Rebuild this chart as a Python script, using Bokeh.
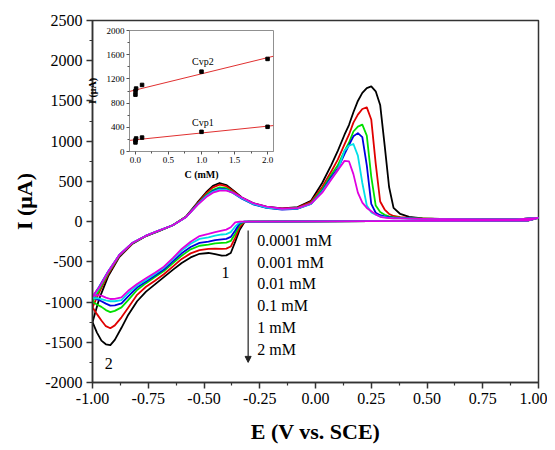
import numpy as np
from bokeh.plotting import figure
from bokeh.models import Range1d, FixedTicker, PrintfTickFormatter, Arrow, NormalHead
from bokeh.embed import file_html
from bokeh.resources import INLINE
from bokeh.core.properties import value

FONT = "Liberation Serif"

# ---------------- main CV data ----------------
E_fwd = [-1.00, -0.97, -0.93, -0.88, -0.82, -0.76, -0.70, -0.64, -0.58, -0.53,
         -0.49, -0.46, -0.43, -0.40, -0.37, -0.33, -0.28, -0.22, -0.15, -0.08,
         -0.02, 0.03, 0.07, 0.10, 0.13, 0.15, 0.17, 0.19, 0.21, 0.23,
         0.25, 0.27, 0.29, 0.31, 0.33, 0.35, 0.38, 0.42, 0.48, 0.60,
         0.75, 0.90, 1.00]
E_rev = [1.00, 0.95, 0.50, 0.00, -0.30, -0.32, -0.34, -0.36, -0.38, -0.40,
         -0.42, -0.45, -0.48, -0.52, -0.56, -0.60, -0.64, -0.68, -0.72, -0.76,
         -0.80, -0.84, -0.87, -0.90, -0.92, -0.94, -0.96, -0.98, -1.00]

black_fwd = [-1250, -960, -680, -440, -275, -180, -115, -45, 65, 235,
             365, 445, 480, 455, 390, 300, 230, 185, 165, 180,
             260, 480, 700, 880, 1080, 1200, 1360, 1500, 1600, 1660,
             1680, 1620, 1450, 950, 430, 170, 95, 60, 40, 30,
             28, 28, 45]
red_fwd = [-1066, -880, -655, -430, -270, -178, -113, -45, 62, 225,
           350, 425, 460, 440, 380, 295, 225, 180, 160, 174,
           245, 430, 620, 770, 960, 1080, 1230, 1330, 1400, 1420,
           1270, 720, 250, 150, 95, 70, 55, 45, 38, 30,
           28, 28, 45]
green_fwd = [-1000, -850, -640, -420, -265, -176, -112, -45, 60, 215,
             330, 395, 425, 415, 365, 290, 220, 175, 155, 164,
             230, 400, 580, 700, 880, 980, 1120, 1180, 1205, 1070,
             560, 200, 120, 85, 65, 55, 48, 42, 36, 30,
             28, 28, 45]
blue_fwd = [-940, -810, -620, -415, -262, -175, -110, -45, 58, 210,
            320, 380, 410, 400, 355, 285, 215, 170, 150, 160,
            220, 380, 550, 660, 840, 950, 1060, 1100, 1050, 700,
            220, 110, 80, 65, 55, 48, 44, 40, 35, 30,
            28, 28, 45]
cyan_fwd = [-955, -820, -625, -415, -262, -175, -110, -45, 58, 208,
            315, 370, 400, 395, 355, 290, 220, 175, 155, 163,
            220, 370, 530, 640, 880, 945, 965, 820, 480, 200,
            115, 85, 65, 55, 45, 42, 40, 38, 34, 30,
            28, 28, 45]
magenta_fwd = [-930, -820, -625, -415, -262, -175, -110, -45, 58, 205,
               305, 360, 385, 385, 360, 300, 230, 185, 160, 168,
               225, 360, 520, 640, 755, 750, 590, 360, 235, 170,
               130, 90, 60, 50, 45, 42, 40, 38, 33, 30,
               28, 28, 45]

black_rev = [45, 12, 8, 2, 0, -10, -100, -250, -390, -420,
             -423, -405, -390, -400, -445, -514, -600, -690, -780, -870,
             -990, -1160, -1320, -1470, -1535, -1525, -1480, -1380, -1250]
red_rev = [45, 12, 8, 2, 0, -5, -70, -200, -310, -335,
           -340, -335, -340, -355, -395, -464, -560, -655, -735, -810,
           -910, -1070, -1190, -1290, -1325, -1300, -1230, -1150, -1066]
green_rev = [45, 12, 8, 2, 0, 0, -40, -150, -240, -262,
             -265, -270, -286, -300, -345, -423, -520, -615, -690, -765,
             -850, -975, -1066, -1110, -1125, -1100, -1060, -1030, -1000]
blue_rev = [45, 12, 8, 2, 0, 0, -20, -110, -190, -215,
            -220, -230, -249, -265, -315, -394, -495, -595, -670, -745,
            -820, -930, -1016, -1040, -1045, -1020, -990, -965, -940]
cyan_rev = [45, 12, 8, 2, 0, 0, -10, -60, -130, -155,
            -160, -175, -195, -215, -275, -361, -470, -575, -650, -725,
            -795, -890, -975, -990, -990, -980, -965, -950, -955]
magenta_rev = [45, 12, 8, 2, 0, 0, 0, -10, -70, -100,
               -112, -130, -153, -180, -250, -340, -455, -560, -635, -705,
               -775, -860, -941, -960, -962, -945, -920, -915, -930]

series_colors = ["#000000", "#e00000", "#00e000", "#0000e0", "#00e0e8", "#e000e0"]
series_fwd = [black_fwd, red_fwd, green_fwd, blue_fwd, cyan_fwd, magenta_fwd]
series_rev = [black_rev, red_rev, green_rev, blue_rev, cyan_rev, magenta_rev]

conc_labels = ["0.0001 mM", "0.001 mM", "0.01 mM", "0.1 mM", "1 mM", "2 mM"]
conc_label_x = [-0.261] * 6
conc_label_y = [-236, -506, -775, -1045, -1315, -1584]
peak_labels = ["1", "2"]
peak_label_x = [-0.404, -0.927]
peak_label_y = [-630, -1770]
arrow_x = -0.302
arrow_y = [-112, -1750]

x_ticks = [-1.0, -0.75, -0.5, -0.25, 0.0, 0.25, 0.5, 0.75, 1.0]
x_minor = [-0.875, -0.625, -0.375, -0.125, 0.125, 0.375, 0.625, 0.875]
y_ticks = [-2000, -1500, -1000, -500, 0, 500, 1000, 1500, 2000, 2500]
y_minor = [-1750, -1250, -750, -250, 250, 750, 1250, 1750, 2250]

# ---------------- inset data ----------------
C_mM = [0.0001, 0.001, 0.01, 0.1, 1.0, 2.0]
Cvp2 = [940, 1000, 1040, 1100, 1320, 1530]
Cvp1 = [150, 185, 215, 230, 325, 408]
ins_x_ticks = [0.0, 0.5, 1.0, 1.5, 2.0]
ins_x_minor = [0.25, 0.75, 1.25, 1.75]
ins_y_ticks = [0, 400, 800, 1200, 1600, 2000]
ins_y_minor = [200, 600, 1000, 1400, 1800]
ins_labels = ["Cvp2", "Cvp1"]
ins_label_x = [1.02, 1.02]
ins_label_y = [1483, 479]

# ---------------- main figure ----------------
p = figure(width=539, height=442, output_backend="svg", toolbar_location=None,
           x_range=Range1d(-1.0, 1.0), y_range=Range1d(-2000, 2500),
           min_border_left=84, min_border_right=9, min_border_top=12, min_border_bottom=68,
           styles={"position": "absolute", "left": "8px", "top": "8px"})
p.xgrid.visible = False
p.ygrid.visible = False
p.outline_line_color = "#333333"
p.outline_line_width = 1.5
p.background_fill_color = "white"

for col, f, r in zip(series_colors, series_fwd, series_rev):
    xs = list(E_fwd) + list(E_rev)
    ys = list(f) + list(r)
    p.line(xs, ys, line_color=col, line_width=1.8, line_join="round")

for ax in (p.xaxis[0], p.yaxis[0]):
    ax.axis_line_color = "#333333"
    ax.axis_line_width = 1.5
    ax.major_tick_line_color = "#333333"
    ax.minor_tick_line_color = "#333333"
    ax.major_tick_line_width = 1.5
    ax.minor_tick_line_width = 1.2
    ax.major_tick_out = 6
    ax.major_tick_in = 0
    ax.minor_tick_out = 3
    ax.minor_tick_in = 0
    ax.major_label_text_font = FONT
    ax.major_label_text_font_size = "16px"
    ax.major_label_text_color = "black"
    ax.axis_label_text_font = FONT
    ax.axis_label_text_font_size = "22px"
    ax.axis_label_text_font_style = "bold"
    ax.axis_label_text_color = "black"

p.xaxis.ticker = FixedTicker(ticks=x_ticks, minor_ticks=x_minor)
p.xaxis.formatter = PrintfTickFormatter(format="%.2f")
p.xaxis.axis_label = "E (V vs. SCE)"
p.xaxis.major_label_standoff = 4
p.xaxis.axis_label_standoff = 12
p.yaxis.ticker = FixedTicker(ticks=y_ticks, minor_ticks=y_minor)
p.yaxis.formatter = PrintfTickFormatter(format="%d")
p.yaxis.axis_label = "I (μA)"
p.yaxis.major_label_standoff = 4
p.yaxis.axis_label_standoff = 5

p.text(x=conc_label_x, y=conc_label_y, text=conc_labels, text_font=value(FONT),
       text_font_size="16px", text_baseline="middle", text_align="left", text_color="black")
p.text(x=peak_label_x, y=peak_label_y, text=peak_labels, text_font=value(FONT),
       text_font_size="16px", text_baseline="middle", text_align="center", text_color="black")
p.add_layout(Arrow(end=NormalHead(size=6, fill_color="#222222", line_color="#222222"),
                   x_start=arrow_x, y_start=arrow_y[0], x_end=arrow_x, y_end=arrow_y[1],
                   line_color="#222222", line_width=1.2))

# ---------------- inset figure ----------------
ins = figure(width=192, height=157, output_backend="svg", toolbar_location=None,
             x_range=Range1d(-0.09, 2.09), y_range=Range1d(0, 2000),
             min_border_left=45, min_border_right=2, min_border_top=5, min_border_bottom=29,
             styles={"position": "absolute", "left": "83px", "top": "25px"})
ins.xgrid.visible = False
ins.ygrid.visible = False
ins.outline_line_color = "#909090"
ins.outline_line_width = 1
ins.background_fill_alpha = 1.0
ins.border_fill_alpha = 0.0

for cvp in (Cvp2, Cvp1):
    k, b = np.polyfit(C_mM, cvp, 1)
    xf = np.array([ins.x_range.start, ins.x_range.end])
    ins.line(xf, k * xf + b, line_color="#e03030", line_width=1)
    ins.scatter(C_mM, cvp, marker="square", size=3.5, color="black")

for ax in (ins.xaxis[0], ins.yaxis[0]):
    ax.axis_line_color = "#909090"
    ax.major_tick_line_color = "#555555"
    ax.minor_tick_line_color = "#555555"
    ax.major_tick_out = 3
    ax.major_tick_in = 0
    ax.minor_tick_out = 2
    ax.minor_tick_in = 0
    ax.major_label_text_font = FONT
    ax.major_label_text_font_size = "9px"
    ax.major_label_text_color = "black"
    ax.major_label_standoff = 2
    ax.axis_label_text_font = FONT
    ax.axis_label_text_font_size = "10px"
    ax.axis_label_text_font_style = "bold"
    ax.axis_label_text_color = "black"
    ax.axis_label_standoff = 3

ins.yaxis.axis_label_standoff = 6
ins.xaxis.ticker = FixedTicker(ticks=ins_x_ticks, minor_ticks=ins_x_minor)
ins.xaxis.formatter = PrintfTickFormatter(format="%.1f")
ins.xaxis.axis_label = "C (mM)"
ins.yaxis.ticker = FixedTicker(ticks=ins_y_ticks, minor_ticks=ins_y_minor)
ins.yaxis.formatter = PrintfTickFormatter(format="%d")
ins.yaxis.axis_label = "I (μA)"
ins.text(x=ins_label_x, y=ins_label_y, text=ins_labels, text_font=value(FONT),
         text_font_size="10px", text_baseline="middle", text_align="center", text_color="black")

open("out.html", "w").write(file_html([p, ins], INLINE))
